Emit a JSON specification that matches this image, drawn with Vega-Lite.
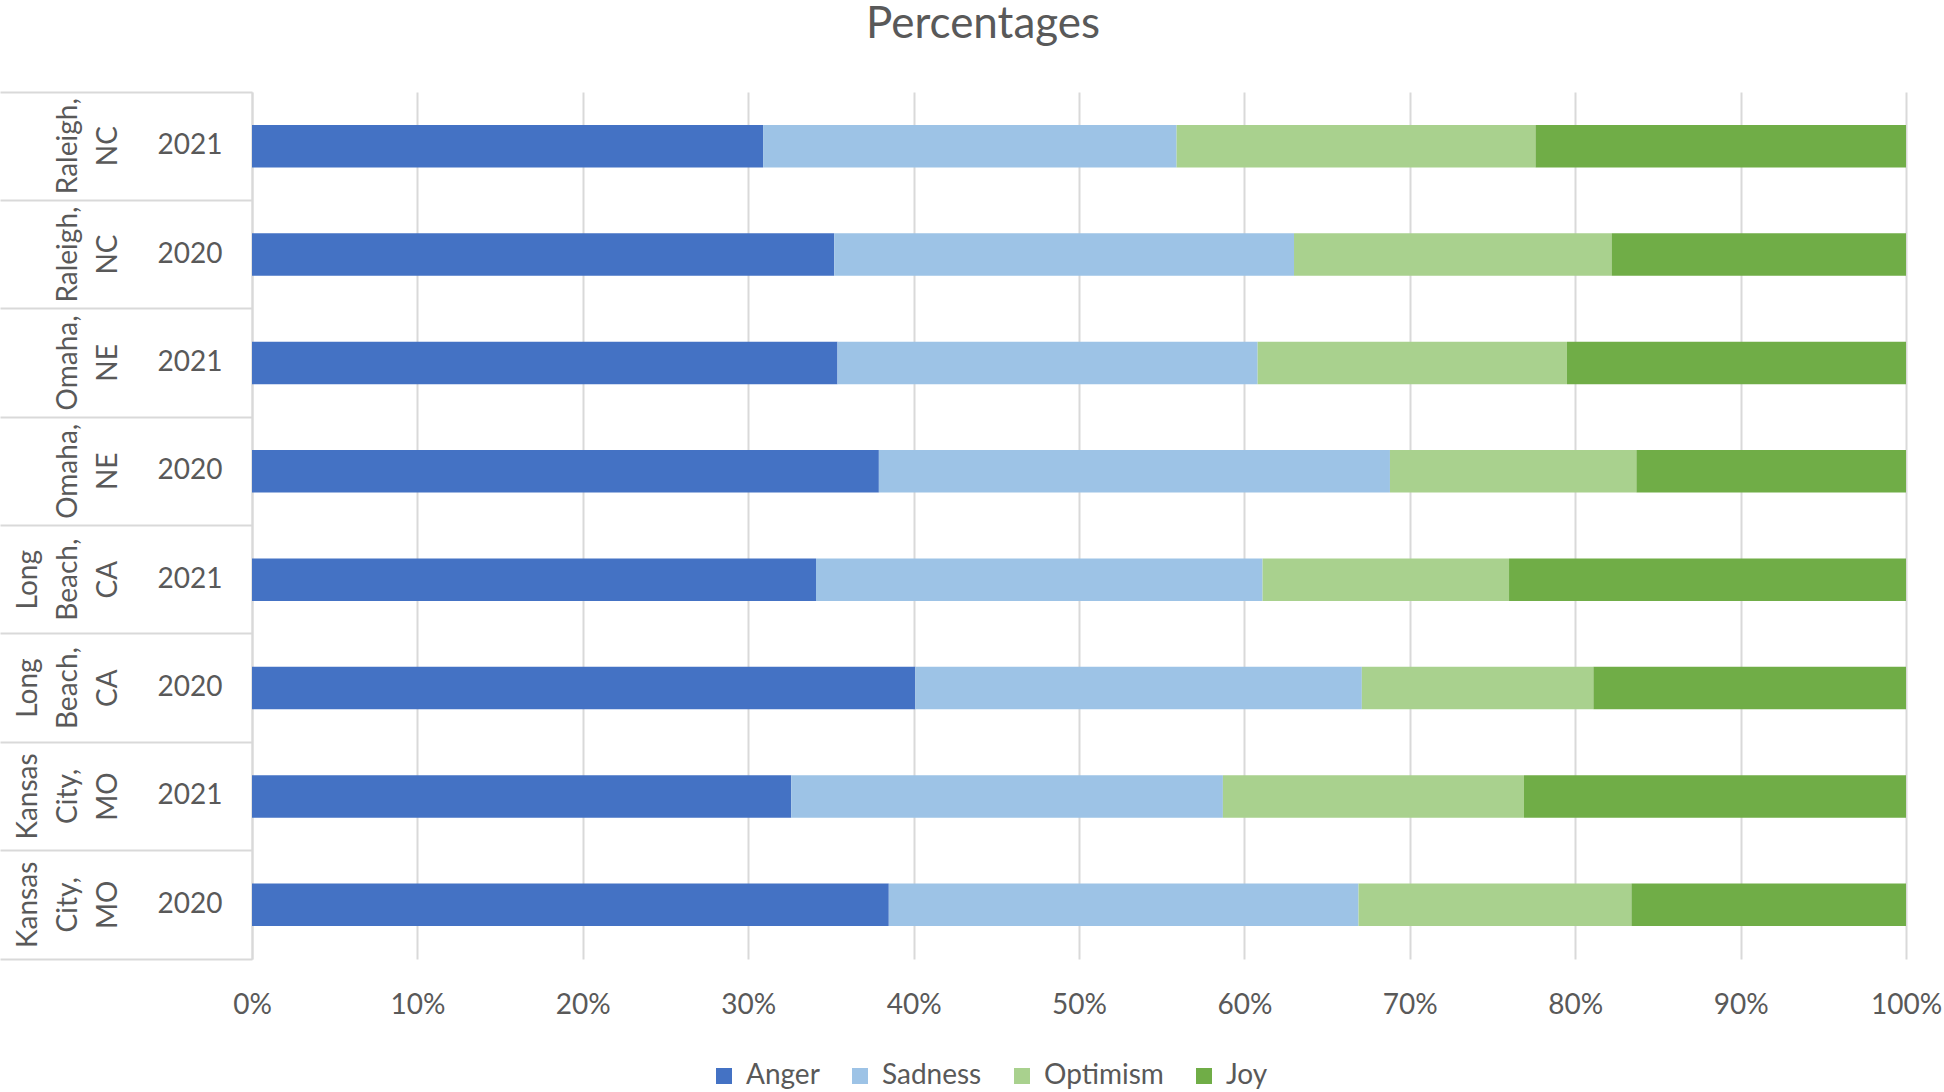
{
  "$schema": "https://vega.github.io/schema/vega-lite/v6.json",
  "width": 1654,
  "height": 867,
  "autosize": {"type": "none"},
  "padding": {"left": 252, "top": 92, "right": 38, "bottom": 133},
  "background": "white",
  "config": {
    "view": {"stroke": null},
    "font": "Lato",
    "axis": {"labelFont": "Lato", "labelColor": "#595959", "labelFontSize": 28}
  },
  "title": {
    "text": "Percentages",
    "fontSize": 44,
    "font": "Lato",
    "fontWeight": "normal",
    "color": "#595959",
    "anchor": "middle",
    "frame": "group",
    "dx": -96,
    "offset": 9,
    "baseline": "alphabetic"
  },
  "data": {
    "values": [
      {"row": "Raleigh, NC|2021", "emotion": "Anger", "k": 1, "pct": 30.9},
      {"row": "Raleigh, NC|2021", "emotion": "Sadness", "k": 2, "pct": 25.0},
      {"row": "Raleigh, NC|2021", "emotion": "Optimism", "k": 3, "pct": 21.7},
      {"row": "Raleigh, NC|2021", "emotion": "Joy", "k": 4, "pct": 22.4},
      {"row": "Raleigh, NC|2020", "emotion": "Anger", "k": 1, "pct": 35.2},
      {"row": "Raleigh, NC|2020", "emotion": "Sadness", "k": 2, "pct": 27.8},
      {"row": "Raleigh, NC|2020", "emotion": "Optimism", "k": 3, "pct": 19.2},
      {"row": "Raleigh, NC|2020", "emotion": "Joy", "k": 4, "pct": 17.8},
      {"row": "Omaha, NE|2021", "emotion": "Anger", "k": 1, "pct": 35.4},
      {"row": "Omaha, NE|2021", "emotion": "Sadness", "k": 2, "pct": 25.4},
      {"row": "Omaha, NE|2021", "emotion": "Optimism", "k": 3, "pct": 18.7},
      {"row": "Omaha, NE|2021", "emotion": "Joy", "k": 4, "pct": 20.5},
      {"row": "Omaha, NE|2020", "emotion": "Anger", "k": 1, "pct": 37.9},
      {"row": "Omaha, NE|2020", "emotion": "Sadness", "k": 2, "pct": 30.9},
      {"row": "Omaha, NE|2020", "emotion": "Optimism", "k": 3, "pct": 14.9},
      {"row": "Omaha, NE|2020", "emotion": "Joy", "k": 4, "pct": 16.3},
      {"row": "Long Beach, CA|2021", "emotion": "Anger", "k": 1, "pct": 34.1},
      {"row": "Long Beach, CA|2021", "emotion": "Sadness", "k": 2, "pct": 27.0},
      {"row": "Long Beach, CA|2021", "emotion": "Optimism", "k": 3, "pct": 14.9},
      {"row": "Long Beach, CA|2021", "emotion": "Joy", "k": 4, "pct": 24.0},
      {"row": "Long Beach, CA|2020", "emotion": "Anger", "k": 1, "pct": 40.1},
      {"row": "Long Beach, CA|2020", "emotion": "Sadness", "k": 2, "pct": 27.0},
      {"row": "Long Beach, CA|2020", "emotion": "Optimism", "k": 3, "pct": 14.0},
      {"row": "Long Beach, CA|2020", "emotion": "Joy", "k": 4, "pct": 18.9},
      {"row": "Kansas City, MO|2021", "emotion": "Anger", "k": 1, "pct": 32.6},
      {"row": "Kansas City, MO|2021", "emotion": "Sadness", "k": 2, "pct": 26.1},
      {"row": "Kansas City, MO|2021", "emotion": "Optimism", "k": 3, "pct": 18.2},
      {"row": "Kansas City, MO|2021", "emotion": "Joy", "k": 4, "pct": 23.1},
      {"row": "Kansas City, MO|2020", "emotion": "Anger", "k": 1, "pct": 38.5},
      {"row": "Kansas City, MO|2020", "emotion": "Sadness", "k": 2, "pct": 28.4},
      {"row": "Kansas City, MO|2020", "emotion": "Optimism", "k": 3, "pct": 16.5},
      {"row": "Kansas City, MO|2020", "emotion": "Joy", "k": 4, "pct": 16.6}
    ]
  },
  "layer": [
    {
      "mark": {"type": "bar", "height": {"band": 0.393}},
      "encoding": {
        "y": {
          "field": "row",
          "type": "nominal",
          "sort": null,
          "scale": {"paddingInner": 0, "paddingOuter": 0},
          "axis": {
            "orient": "left",
            "title": null,
            "ticks": false,
            "grid": false,
            "domain": true,
            "domainColor": "#D9D9D9",
            "domainWidth": 2,
            "labelExpr": "split(datum.value, '|')[1]",
            "labelPadding": 30,
            "labelAlign": "right",
            "labelBaseline": "middle",
            "labelFontSize": 28,
            "labelOverlap": false
          }
        },
        "x": {
          "field": "pct",
          "type": "quantitative",
          "stack": "normalize",
          "scale": {"domain": [0, 1], "nice": false},
          "axis": {
            "title": null,
            "format": ".0%",
            "values": [0, 0.1, 0.2, 0.3, 0.4, 0.5, 0.6, 0.7, 0.8, 0.9, 1],
            "domain": false,
            "ticks": false,
            "grid": true,
            "gridColor": "#D9D9D9",
            "gridWidth": 2,
            "labelPadding": 32,
            "labelFlush": false,
            "labelFontSize": 28
          }
        },
        "color": {
          "field": "emotion",
          "type": "nominal",
          "scale": {
            "domain": ["Anger", "Sadness", "Optimism", "Joy"],
            "range": ["#4472C4", "#9DC3E6", "#A9D18E", "#70AD47"]
          },
          "legend": {
            "title": null,
            "orient": "none",
            "direction": "horizontal",
            "legendX": 458,
            "legendY": 970,
            "padding": 0,
            "symbolType": "square",
            "symbolSize": 256,
            "symbolStrokeWidth": 0,
            "labelFontSize": 28,
            "labelFont": "Lato",
            "labelColor": "#595959",
            "labelOffset": 8,
            "columnPadding": 26
          }
        },
        "order": {"field": "k", "type": "quantitative"}
      }
    },
    {
      "mark": {"type": "point", "opacity": 0},
      "encoding": {
        "y": {
          "field": "row",
          "type": "nominal",
          "sort": null,
          "axis": {
            "orient": "left",
            "title": null,
            "domain": false,
            "grid": false,
            "ticks": true,
            "tickSize": 252,
            "tickColor": "#D9D9D9",
            "tickWidth": 2,
            "bandPosition": 1,
            "tickExtra": true,
            "labelExpr": "datum.value ? (length(split(split(datum.value, '|')[0], ' ')) == 2 ? ['', split(split(datum.value, '|')[0], ' ')[0], split(split(datum.value, '|')[0], ' ')[1]] : split(split(datum.value, '|')[0], ' ')) : ''",
            "labelAngle": 270,
            "labelAlign": "center",
            "labelBaseline": "bottom",
            "labelPadding": -42,
            "labelLineHeight": 40,
            "labelFontSize": 28,
            "labelOverlap": false,
            "labelLimit": 400
          }
        }
      }
    }
  ],
  "resolve": {"axis": {"y": "independent"}}
}
